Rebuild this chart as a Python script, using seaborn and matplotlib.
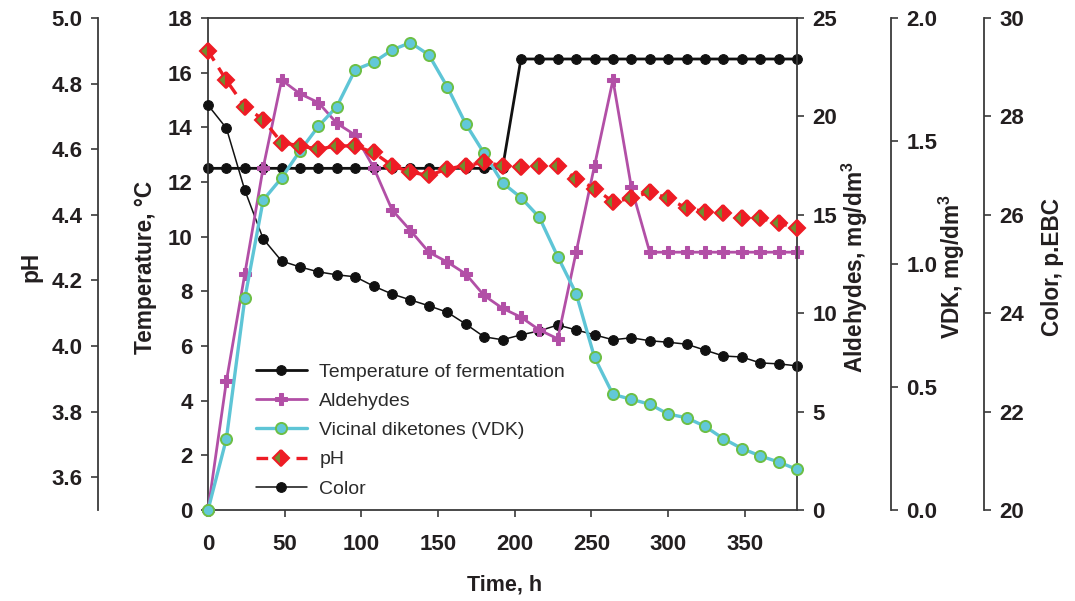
import numpy as np
import pandas as pd
import matplotlib
matplotlib.use("Agg")
import matplotlib.pyplot as plt
import seaborn as sns

# ---------------- data ----------------
time_h = [0, 12, 24, 36, 48, 60, 72, 84, 96, 108, 120, 132, 144, 156, 168, 180, 192,
          204, 216, 228, 240, 252, 264, 276, 288, 300, 312, 324, 336, 348, 360, 372, 384]

temperature = [12.5, 12.5, 12.5, 12.5, 12.5, 12.5, 12.5, 12.5, 12.5, 12.5, 12.5, 12.5,
               12.5, 12.5, 12.5, 12.5, 12.5, 16.5, 16.5, 16.5, 16.5, 16.5, 16.5, 16.5,
               16.5, 16.5, 16.5, 16.5, 16.5, 16.5, 16.5, 16.5, 16.5]

aldehydes = [0.0, 6.55, 12.0, 17.4, 21.85, 21.15, 20.7, 19.65, 19.05, 17.4, 15.25, 14.2,
             13.1, 12.6, 12.0, 10.9, 10.25, 9.8, 9.15, 8.7, 13.1, 17.5, 21.85, 16.4,
             13.1, 13.1, 13.1, 13.1, 13.1, 13.1, 13.1, 13.1, 13.1]

vdk = [0.0, 0.29, 0.86, 1.26, 1.35, 1.46, 1.56, 1.64, 1.79, 1.82, 1.87, 1.90, 1.85,
       1.72, 1.57, 1.45, 1.33, 1.27, 1.19, 1.03, 0.88, 0.62, 0.47, 0.45, 0.43, 0.39,
       0.375, 0.34, 0.29, 0.25, 0.22, 0.195, 0.165]

ph = [4.90, 4.81, 4.73, 4.69, 4.62, 4.61, 4.60, 4.61, 4.61, 4.59, 4.55, 4.53, 4.52,
      4.54, 4.55, 4.56, 4.55, 4.545, 4.55, 4.55, 4.51, 4.48, 4.44, 4.45, 4.47, 4.45,
      4.42, 4.41, 4.405, 4.39, 4.39, 4.375, 4.36]

color_ebc = [28.23, 27.76, 26.5, 25.51, 25.06, 24.94, 24.84, 24.78, 24.74, 24.55, 24.39,
             24.27, 24.15, 24.02, 23.78, 23.52, 23.46, 23.56, 23.64, 23.76, 23.66, 23.56,
             23.46, 23.5, 23.44, 23.41, 23.37, 23.25, 23.13, 23.11, 22.99, 22.97, 22.93]

series_labels = ["Temperature of fermentation", "Aldehydes", "Vicinal diketones (VDK)",
                 "pH", "Color"]

df = pd.DataFrame({"time": time_h, "temp": temperature, "ald": aldehydes,
                   "vdk": vdk, "ph": ph, "color": color_ebc})

# ---------------- style ----------------
sns.set_style("ticks")
plt.rcParams["font.family"] = ["Liberation Sans", "DejaVu Sans"]
plt.rcParams["font.weight"] = "bold"
plt.rcParams["axes.labelweight"] = "bold"
plt.rcParams["mathtext.fontset"] = "custom"
plt.rcParams["mathtext.rm"] = "Liberation Sans:bold"
plt.rcParams["mathtext.bf"] = "Liberation Sans:bold"

TXT = "#231f20"
SPINE = "#3a3a3a"
FS = 16      # tick labels
LFS = 16.3   # y-axis labels

fig = plt.figure(figsize=(10.75, 6.01), dpi=100)
W, H = 1075, 601
x0, x1, y0, y1 = 208, 797, 18, 510
ax = fig.add_axes([x0 / W, 1 - y1 / H, (x1 - x0) / W, (y1 - y0) / H])
pw = x1 - x0
ph_ = y1 - y0

ax_col = ax.twinx()
ax_ald = ax.twinx()
ax_vdk = ax.twinx()
ax_ph = ax.twinx()

# ---------------- plot ----------------
line_kw = dict(estimator=None, clip_on=False)

sns.lineplot(data=df, x="time", y="temp", ax=ax, color="#111111", lw=2.0,
             marker="o", markersize=7, markeredgecolor="#111111",
             markerfacecolor="#111111", **line_kw)
h_temp = ax.lines[-1]

sns.lineplot(data=df, x="time", y="color", ax=ax_col, color="#111111", lw=1.1,
             marker="o", markersize=7, markeredgecolor="#111111",
             markerfacecolor="#111111", **line_kw)
h_col = ax_col.lines[-1]

sns.lineplot(data=df, x="time", y="ald", ax=ax_ald, color="#b24fa6", lw=2.0,
             marker="P", markersize=8, markeredgecolor="#b24fa6",
             markerfacecolor="#b24fa6", **line_kw)
h_ald = ax_ald.lines[-1]

sns.lineplot(data=df, x="time", y="vdk", ax=ax_vdk, color="#5ec5d6", lw=2.4,
             marker="o", markersize=8, markeredgecolor="#6dbf45",
             markeredgewidth=1.4, markerfacecolor="#62c8d8", **line_kw)
h_vdk = ax_vdk.lines[-1]

sns.lineplot(data=df, x="time", y="ph", ax=ax_ph, color="#ee1c25", lw=2.4,
             marker="D", markersize=8.5, markeredgecolor="#ee1c25",
             markeredgewidth=1.5, markerfacecolor="#6f8f2f",
             fillstyle="left", markerfacecoloralt="#ee1c25", **line_kw)
h_ph = ax_ph.lines[-1]
h_ph.set_dashes((3.5, 2.5))

# ---------------- axes ----------------
ax.set_xlim(0, 384)
ax.set_ylim(0, 18)
ax.set_xticks([0, 50, 100, 150, 200, 250, 300, 350])
ax.set_yticks(np.arange(0, 19, 2))

ax_ph.set_ylim(3.5, 5.0)
ax_ph.set_yticks([3.6, 3.8, 4.0, 4.2, 4.4, 4.6, 4.8, 5.0])
ax_ph.set_yticklabels(["3.6", "3.8", "4.0", "4.2", "4.4", "4.6", "4.8", "5.0"])

ax_ald.set_ylim(0, 25)
ax_ald.set_yticks([0, 5, 10, 15, 20, 25])

ax_vdk.set_ylim(0, 2.0)
ax_vdk.set_yticks([0.0, 0.5, 1.0, 1.5, 2.0])
ax_vdk.set_yticklabels(["0.0", "0.5", "1.0", "1.5", "2.0"])

ax_col.set_ylim(20, 30)
ax_col.set_yticks([20, 22, 24, 26, 28, 30])

for a in [ax, ax_ph, ax_ald, ax_vdk, ax_col]:
    for s in a.spines.values():
        s.set_visible(False)
        s.set_color(SPINE)
        s.set_linewidth(1.3)
    a.tick_params(axis="both", labelsize=FS, colors=SPINE, labelcolor=TXT,
                  width=1.2, length=5, direction="out", pad=6)
ax.tick_params(axis="x", pad=12)

ax.spines["left"].set_visible(True)
ax.spines["bottom"].set_visible(True)
ax.spines["top"].set_visible(True)

ax_ph.spines["left"].set_visible(True)
ax_ph.spines["left"].set_position(("axes", (98 - x0) / pw))
ax_ph.yaxis.set_ticks_position("left")
ax_ph.yaxis.set_label_position("left")

ax_ald.spines["right"].set_visible(True)

ax_vdk.spines["right"].set_visible(True)
ax_vdk.spines["right"].set_position(("axes", (891 - x0) / pw))

ax_col.spines["right"].set_visible(True)
ax_col.spines["right"].set_position(("axes", (984 - x0) / pw))

for a in [ax_ph, ax_ald, ax_vdk, ax_col]:
    a.tick_params(axis="x", bottom=False, top=False, labelbottom=False)

# labels
ycen = (y1 - 267) / ph_
ax.set_xlabel("Time, h", fontsize=15.5, color=TXT)
ax.xaxis.set_label_coords((505 - x0) / pw, (y1 - 574) / ph_)
ax.set_ylabel("Temperature, °C", fontsize=LFS, color=TXT)
ax.yaxis.set_label_coords((157 - x0) / pw, ycen)
ax_ph.set_ylabel("pH", fontsize=LFS, color=TXT)
ax_ph.yaxis.set_label_coords((42 - x0) / pw, ycen)
ax_ald.set_ylabel(r"Aldehydes, mg/dm$^{3}$", fontsize=LFS, color=TXT)
ax_ald.yaxis.set_label_coords((840 - x0) / pw, ycen)
ax_vdk.set_ylabel(r"VDK, mg/dm$^{3}$", fontsize=LFS, color=TXT)
ax_vdk.yaxis.set_label_coords((937 - x0) / pw, ycen)
ax_col.set_ylabel("Color, p.EBC", fontsize=LFS, color=TXT)
ax_col.yaxis.set_label_coords((1041 - x0) / pw, ycen)

# legend
leg = ax_ph.legend([h_temp, h_ald, h_vdk, h_ph, h_col], series_labels,
                   loc="upper left",
                   bbox_to_anchor=((256 - x0) / pw, (y1 - 363) / ph_),
                   frameon=False, borderpad=0, borderaxespad=0,
                   handlelength=2.6, handletextpad=0.65, labelspacing=0.6,
                   numpoints=1, prop={"weight": "normal", "size": 14})
for t in leg.get_texts():
    t.set_color("#2b2b2b")

fig.savefig("out.png", dpi=100)
